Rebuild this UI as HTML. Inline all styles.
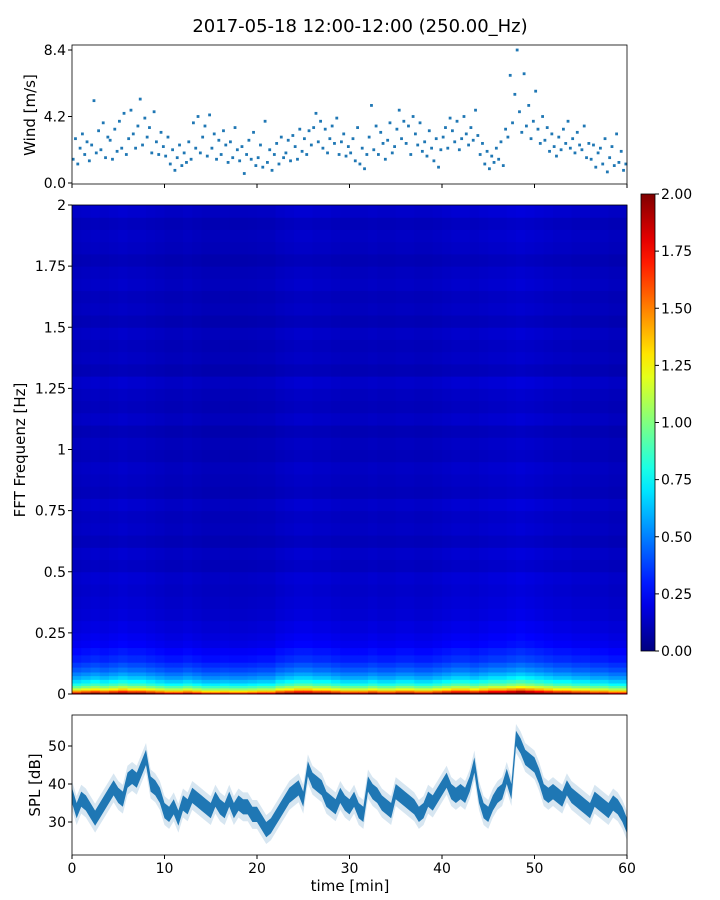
<!DOCTYPE html>
<html><head><meta charset="utf-8"><style>
body{margin:0;background:#fff}
svg{display:block;font-family:"DejaVu Sans","Liberation Sans",sans-serif}
</style></head><body>
<svg id="fig" width="720" height="900" viewBox="0 0 720 900">
<text x="360" y="32" font-size="18" text-anchor="middle">2017-05-18 12:00-12:00 (250.00_Hz)</text>
<g id="wind"></g>
<g id="spec"></g>
<g id="cbar"></g>
<g id="spl"></g>
</svg>
<script>
const windValues=[1.5,2.8,1.2,2.2,3.1,1.8,2.6,1.4,2.4,5.2,1.9,3.3,2.1,3.8,1.6,2.9,2.7,1.5,3.4,2.0,3.9,2.2,4.4,1.8,2.8,4.6,3.1,2.2,3.6,5.3,2.4,4.1,2.9,3.5,1.9,4.5,2.6,1.8,3.2,2.3,1.7,2.9,1.2,2.1,0.8,1.6,2.4,1.1,1.9,1.3,2.6,1.5,3.8,2.2,4.2,1.9,2.9,3.6,1.7,4.3,2.2,3.1,1.5,2.7,1.8,3.3,2.4,1.3,2.6,1.6,3.5,2.1,1.4,2.3,0.6,1.8,2.7,1.5,3.2,1.1,1.6,2.4,1.0,3.9,1.3,2.1,0.8,1.8,2.5,1.2,2.9,1.6,1.9,2.7,1.4,3.0,2.3,1.5,3.4,2.0,2.8,1.8,3.3,2.4,3.5,4.4,2.6,3.9,2.2,3.4,1.9,2.8,3.6,2.5,4.1,1.8,2.6,3.1,1.7,2.3,1.9,2.8,1.4,3.5,1.2,2.2,0.9,1.8,2.9,4.9,2.1,3.6,1.8,3.2,2.5,1.5,2.7,3.8,1.9,2.3,3.4,4.6,2.8,3.9,2.5,3.6,1.8,4.2,3.1,2.4,3.8,2.0,2.6,1.7,3.3,2.2,1.4,2.8,1.0,2.1,2.9,3.5,2.2,4.1,3.3,2.6,3.9,2.1,2.8,4.2,3.1,2.4,3.5,2.7,4.6,3.0,1.8,2.5,1.2,2.0,0.9,1.7,1.3,2.2,1.5,2.6,1.1,3.4,2.9,6.8,3.8,5.6,8.4,4.5,3.2,6.9,3.6,4.9,2.8,3.9,5.8,3.4,2.5,4.2,2.7,3.5,2.0,3.1,2.3,1.7,2.9,2.1,3.4,2.5,3.9,2.2,2.8,1.9,3.2,2.4,2.1,3.6,1.6,2.5,1.5,2.4,1.0,1.9,2.2,1.2,2.8,0.7,1.6,2.3,1.1,3.1,1.3,2.0,0.8,1.2];
const windTicks=[0.0,4.2,8.4];
const splValues=[37,33,36,35,33,31,33,35,37,39,37,36,41,42,41,44,47,40,39,37,33,32,34,31,35,34,37,36,35,34,33,36,34,33,36,33,35,34,34,32,32,30,28,29,31,33,35,37,38,39,36,44,41,40,39,36,35,34,37,35,34,36,33,32,40,38,37,35,34,33,38,37,36,35,34,32,33,36,35,37,39,41,38,37,38,37,40,45,37,33,32,35,37,38,42,38,52,50,47,46,45,42,38,37,38,37,36,39,37,36,35,34,33,36,35,34,33,35,34,32,29];
const splTicks=[30,40,50];
const timeTicks=[0,10,20,30,40,50,60];
const freqEdges=[0,0.008,0.016,0.025,0.035,0.045,0.06,0.075,0.09,0.11,0.13,0.16,0.19,0.22,0.25,0.3,0.35,0.4,0.45,0.5,0.55,0.6,0.65,0.7,0.75,0.8,0.85,0.9,0.95,1.0,1.05,1.1,1.15,1.2,1.25,1.3,1.35,1.4,1.45,1.5,1.55,1.6,1.65,1.7,1.75,1.8,1.85,1.9,1.95,2.0];
const freqLevels=[1.85,1.45,1.15,0.95,0.8,0.68,0.58,0.5,0.42,0.36,0.3,0.26,0.22,0.2,0.18,0.16,0.15,0.14,0.15,0.12,0.14,0.11,0.13,0.12,0.14,0.11,0.12,0.13,0.11,0.12,0.1,0.13,0.11,0.12,0.14,0.1,0.12,0.11,0.13,0.1,0.12,0.11,0.13,0.12,0.1,0.12,0.13,0.11,0.14];
const timeFactors=[1.0,1.05,1.1,1.05,1.1,1.15,1.1,1.1,1.05,1.0,0.95,0.95,1.0,0.95,0.9,0.9,0.92,0.9,0.9,0.92,0.95,0.95,1.05,1.1,1.15,1.15,1.1,1.1,1.05,1.0,1.0,1.0,1.05,1.0,1.0,1.05,1.05,1.0,1.0,1.05,1.1,1.15,1.15,1.1,1.15,1.2,1.2,1.25,1.3,1.25,1.2,1.15,1.1,1.1,1.05,1.05,1.0,1.0,0.95,0.95];
const freqTicks=[0,0.25,0.5,0.75,1,1.25,1.5,1.75,2];
const freqTickLabels=["0","0.25","0.5","0.75","1","1.25","1.5","1.75","2"];
const cbarTicks=[0,0.25,0.5,0.75,1,1.25,1.5,1.75,2];

const NS="http://www.w3.org/2000/svg";
function mk(tag,attrs,parent,txt){const e=document.createElementNS(NS,tag);for(const k in attrs)e.setAttribute(k,attrs[k]);if(txt!==undefined)e.textContent=txt;parent.appendChild(e);return e;}
const L=72,R=627;
const xT=t=>L+(t/60)*(R-L);
function jet(v){const x=Math.max(0,Math.min(1,v/2));const c=a=>Math.round(255*Math.max(0,Math.min(1,1.5-Math.abs(4*x-a))));return `rgb(${c(3)},${c(2)},${c(1)})`;}

// Wind panel
const wg=document.getElementById('wind');
const wT=45,wB=184;const wY=v=>183-v*(133/8.4);
windValues.forEach((v,i)=>{const t=(i+0.5)*60/windValues.length;
 const d=mk('rect',{x:xT(t)-1.4,y:wY(v)-1.4,width:2.8,height:2.8,fill:'#1f77b4'},wg);
 
 });
mk('rect',{x:L,y:wT,width:R-L,height:wB-wT,fill:'none',stroke:'#000','stroke-width':0.8},wg);
windTicks.forEach(v=>{mk('line',{x1:L-4,x2:L,y1:wY(v),y2:wY(v),stroke:'#000'},wg);
 const t=mk('text',{x:L-6,y:wY(v)+5,'font-size':14,'text-anchor':'end'},wg,v.toFixed(1));
 
 });
timeTicks.forEach(v=>mk('line',{x1:xT(v),x2:xT(v),y1:wB,y2:wB+4,stroke:'#000'},wg));
mk('text',{x:35,y:115,'font-size':15,'text-anchor':'middle',transform:'rotate(-90 35 115)',},wg,'Wind [m/s]');

// Spectrogram
const sg=document.getElementById('spec');
const sT=205,sB=694;const fY=f=>sB-(f/2)*(sB-sT);
timeFactors.forEach((tf,ci)=>{freqLevels.forEach((lv,ri)=>{
 const y1=fY(freqEdges[ri+1]),y0=fY(freqEdges[ri]);
 const c=mk('rect',{x:xT(ci),y:y1,width:xT(ci+1)-xT(ci)+0.5,height:y0-y1+0.5,fill:jet(lv*tf)},sg);
 
 });});
mk('rect',{x:L,y:sT,width:R-L,height:sB-sT,fill:'none',stroke:'#000','stroke-width':0.8},sg);
freqTicks.forEach((f,i)=>{mk('line',{x1:L-4,x2:L,y1:fY(f),y2:fY(f),stroke:'#000'},sg);
 const t=mk('text',{x:L-6,y:fY(f)+5,'font-size':14,'text-anchor':'end'},sg,freqTickLabels[i]);
 
 });
mk('text',{x:25,y:450,'font-size':15,'text-anchor':'middle',transform:'rotate(-90 25 450)',},sg,'FFT Frequenz [Hz]');

// Colorbar
const cg=document.getElementById('cbar');
const cT=194,cB=651,cL=641,cR=655;const cY=v=>cB-(v/2)*(cB-cT);
const defs=mk('defs',{},cg);const gr=mk('linearGradient',{id:'jetg',x1:0,y1:1,x2:0,y2:0},defs);
for(let i=0;i<=20;i++)mk('stop',{offset:i/20,'stop-color':jet(i/10)},gr);
mk('rect',{x:cL,y:cT,width:cR-cL,height:cB-cT,fill:'url(#jetg)',stroke:'#000','stroke-width':0.8},cg);
cbarTicks.forEach(v=>{mk('line',{x1:cR,x2:cR+4,y1:cY(v),y2:cY(v),stroke:'#000'},cg);
 const t=mk('text',{x:cR+6,y:cY(v)+5,'font-size':14},cg,v.toFixed(2));
 
 });

// SPL panel
const pg=document.getElementById('spl');
const pT=715,pB=855;const pY=v=>822-(v-30)*3.8;
const n=splValues.length;
let up=[],dn=[],up2=[],dn2=[];
splValues.forEach((v,i)=>{const x=xT(i*60/(n-1));up.push(x+','+pY(v+2));dn.unshift(x+','+pY(v-2));up2.push(x+','+pY(v+3.8));dn2.unshift(x+','+pY(v-3.8));});
mk('polygon',{points:up2.concat(dn2).join(' '),fill:'#1f77b4','fill-opacity':0.18,},pg);
mk('polygon',{points:up.concat(dn).join(' '),fill:'#1f77b4',},pg);
mk('rect',{x:L,y:pT,width:R-L,height:pB-pT,fill:'none',stroke:'#000','stroke-width':0.8},pg);
splTicks.forEach(v=>{mk('line',{x1:L-4,x2:L,y1:pY(v),y2:pY(v),stroke:'#000'},pg);
 const t=mk('text',{x:L-6,y:pY(v)+5,'font-size':14,'text-anchor':'end'},pg,String(v));
 
 });
timeTicks.forEach(v=>{mk('line',{x1:xT(v),x2:xT(v),y1:pB,y2:pB+4,stroke:'#000'},pg);
 const t=mk('text',{x:xT(v),y:pB+18,'font-size':14,'text-anchor':'middle'},pg,String(v));
 
 });
mk('text',{x:350,y:891,'font-size':15,'text-anchor':'middle',},pg,'time [min]');
mk('text',{x:40,y:785,'font-size':15,'text-anchor':'middle',transform:'rotate(-90 40 785)',},pg,'SPL [dB]');
</script>
</body></html>
